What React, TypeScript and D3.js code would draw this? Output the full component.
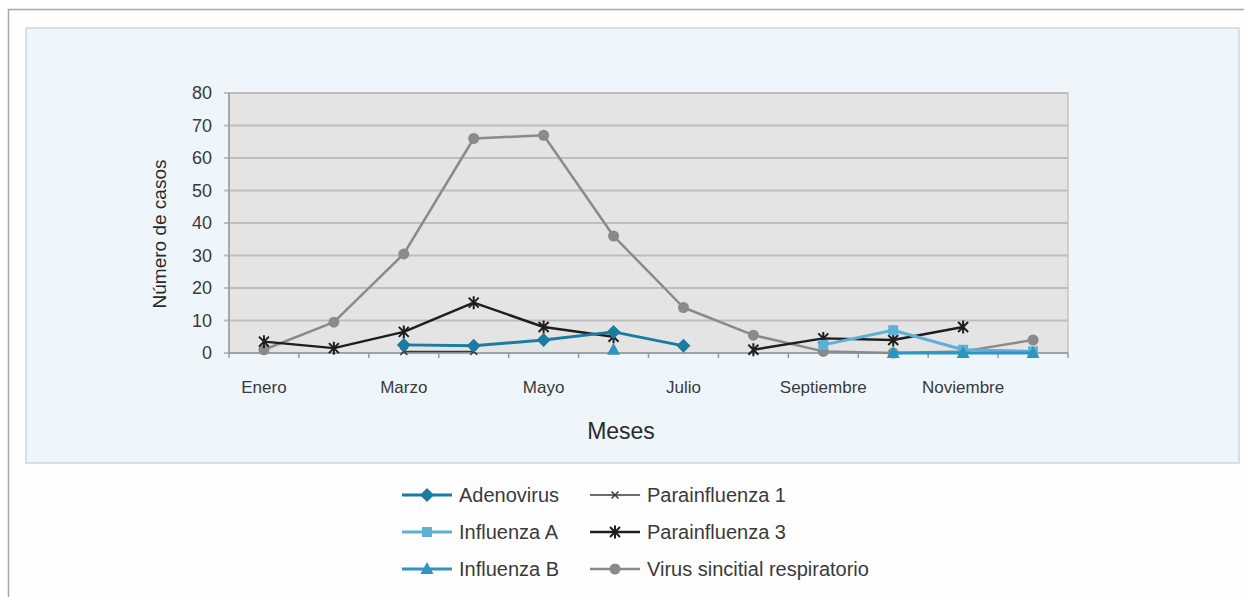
import React from "react";
import * as d3 from "d3";

const months = ["Enero","Febrero","Marzo","Abril","Mayo","Junio","Julio","Agosto","Septiembre","Octubre","Noviembre","Diciembre"];
const yTicks = [0,10,20,30,40,50,60,70,80];

type V = number | null;
const adenovirus: V[] = [null,null,2.5,2.2,4,6.5,2.2,null,null,null,null,null];
const influenzaA: V[] = [null,null,null,null,null,null,null,null,2.5,7,1,0.5];
const influenzaB: V[] = [null,null,null,null,null,1,null,null,null,0,0,0];
const parainf1: V[] = [null,null,0.5,0.5,null,null,null,null,null,null,null,null];
const parainf3: V[] = [3.5,1.5,6.5,15.5,8,5,null,1,4.5,4,8,null];
const vsr: V[] = [1,9.5,30.5,66,67,36,14,5.5,0.5,0,0.5,4];

const seriesNames = ["Adenovirus","Influenza A","Influenza B","Parainfluenza 1","Parainfluenza 3","Virus sincitial respiratorio"];

const FONT = "'Liberation Sans', Arial, sans-serif";

type Series = { name: string; values: V[]; color: string; width: number; marker: string };

const series: Series[] = [
  { name: seriesNames[5], values: vsr, color: "#8a8a8a", width: 2.5, marker: "circle" },
  { name: seriesNames[3], values: parainf1, color: "#3a3a3a", width: 1.5, marker: "x" },
  { name: seriesNames[4], values: parainf3, color: "#1e1e1e", width: 2.5, marker: "star" },
  { name: seriesNames[1], values: influenzaA, color: "#5fb0d6", width: 3, marker: "square" },
  { name: seriesNames[2], values: influenzaB, color: "#2c95c2", width: 3, marker: "triangle" },
  { name: seriesNames[0], values: adenovirus, color: "#1a7ca0", width: 3, marker: "diamond" },
];

function Marker({ type, x, y, color }: { type: string; x: number; y: number; color: string }) {
  if (type === "circle") return <circle cx={x} cy={y} r={5.5} fill={color} />;
  if (type === "square") return <rect x={x - 5} y={y - 5} width={10} height={10} fill={color} />;
  if (type === "diamond") return <path d={`M${x},${y - 7}L${x + 7},${y}L${x},${y + 7}L${x - 7},${y}Z`} fill={color} />;
  if (type === "triangle") return <path d={`M${x},${y - 7}L${x + 6.5},${y + 5}L${x - 6.5},${y + 5}Z`} fill={color} />;
  if (type === "x") {
    const s = 3.5;
    return <path d={`M${x - s},${y - s}L${x + s},${y + s}M${x - s},${y + s}L${x + s},${y - s}`} stroke={color} strokeWidth={1.5} />;
  }
  if (type === "star") {
    const s = 6.5, d = 5;
    return <path d={`M${x},${y - s}L${x},${y + s}M${x - d},${y - d}L${x + d},${y + d}M${x - d},${y + d}L${x + d},${y - d}`} stroke={color} strokeWidth={2} />;
  }
  return null;
}

export default function App() {
  const left = 229, right = 1068, top = 93, bottom = 353;
  const x = d3.scaleBand<string>().domain(months).range([left, right]).padding(0);
  const y = d3.scaleLinear().domain([0, 80]).range([bottom, top]);
  const cx = (m: string) => (x(m) as number) + x.bandwidth() / 2;

  const lineGen = d3.line<V>()
    .defined((d) => d !== null)
    .x((_, i) => cx(months[i]))
    .y((d) => y(d as number));

  const legendItems = [
    { s: series[5], col: 0, row: 0 },
    { s: series[3], col: 0, row: 1 },
    { s: series[4], col: 0, row: 2 },
    { s: series[1], col: 1, row: 0 },
    { s: series[2], col: 1, row: 1 },
    { s: series[0], col: 1, row: 2 },
  ];
  const legendX = [402, 590];
  const legendY = [495, 532, 569];

  return (
    <svg width={1244} height={597} style={{ position: "fixed", left: 0, top: 0, background: "#ffffff" }} fontFamily={FONT}>
      <rect x={8.5} y={9.5} width={1260} height={620} fill="#fefefe" stroke="#a8a8a8" strokeWidth={1.5} />
      <rect x={26} y={28} width={1213} height={435} fill="#eef6fb" stroke="#cfd7dc" strokeWidth={1.5} />
      <rect x={left} y={top} width={right - left} height={bottom - top} fill="#e4e4e4" stroke="#c4c4c4" strokeWidth={1.5} />
      {yTicks.map((t) => (
        <g key={t}>
          <line x1={left - 5} x2={right} y1={y(t)} y2={y(t)} stroke="#bdbdbd" strokeWidth={2} />
          <text x={212} y={y(t)} dy="0.35em" textAnchor="end" fontSize={18} fill="#3a3a3a">{t}</text>
        </g>
      ))}
      <line x1={left} x2={left} y1={top} y2={bottom} stroke="#9a9a9a" strokeWidth={1.5} />
      <line x1={left} x2={right} y1={bottom} y2={bottom} stroke="#9a9a9a" strokeWidth={1.5} />
      {months.map((m, i) => (
        <line key={"t" + i} x1={x(m) as number} x2={x(m) as number} y1={bottom} y2={bottom + 5} stroke="#9a9a9a" strokeWidth={1.5} />
      ))}
      <line x1={right} x2={right} y1={bottom} y2={bottom + 5} stroke="#9a9a9a" strokeWidth={1.5} />
      {months.map((m, i) => i % 2 === 0 ? (
        <text key={"l" + i} x={cx(m)} y={387} dy="0.35em" textAnchor="middle" fontSize={17} fill="#3a3a3a">{m}</text>
      ) : null)}
      <text x={621} y={431} dy="0.35em" textAnchor="middle" fontSize={23} fill="#2a2a2a">Meses</text>
      <text transform={`translate(159,234) rotate(-90)`} dy="0.35em" textAnchor="middle" fontSize={19} fill="#2a2a2a">Número de casos</text>

      {series.map((s) => (
        <g key={s.name}>
          <path d={lineGen(s.values) || ""} fill="none" stroke={s.color} strokeWidth={s.width} strokeLinejoin="round" />
          {s.values.map((v, i) => v === null ? null : (
            <Marker key={i} type={s.marker} x={cx(months[i])} y={y(v)} color={s.color} />
          ))}
        </g>
      ))}

      {legendItems.map(({ s, col, row }) => (
        <g key={"lg" + s.name}>
          <line x1={legendX[col]} x2={legendX[col] + 50} y1={legendY[row]} y2={legendY[row]} stroke={s.color} strokeWidth={s.width} />
          <Marker type={s.marker} x={legendX[col] + 25} y={legendY[row]} color={s.color} />
          <text x={legendX[col] + 57} y={legendY[row]} dy="0.35em" fontSize={20} fill="#3a3a3a">{s.name}</text>
        </g>
      ))}
    </svg>
  );
}
